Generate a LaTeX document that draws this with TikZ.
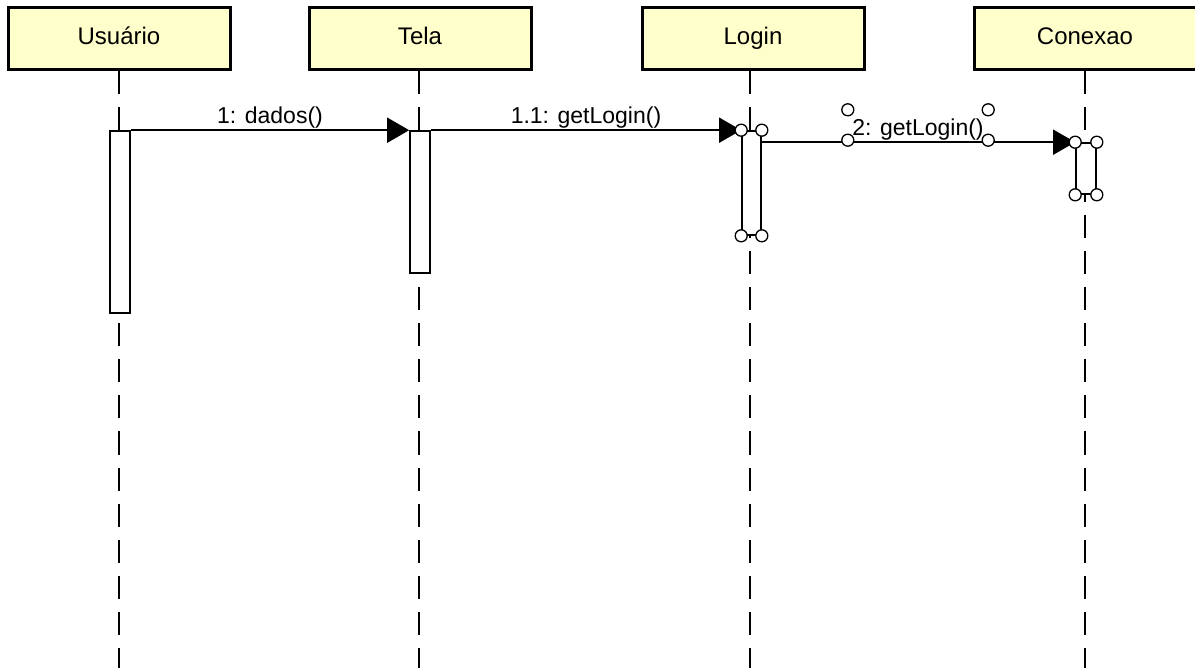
\documentclass[tikz,border=0pt]{standalone}
\usepackage{fontspec}
\setmainfont{Liberation Sans}
\usetikzlibrary{arrows.meta}
\definecolor{objfill}{RGB}{255,255,204}
\begin{document}
\begin{tikzpicture}[x=1pt, y=-1pt,
  objbox/.style={draw, line width=3pt, fill=objfill, minimum width=222pt,
    minimum height=62pt, inner sep=0pt, text height=17pt, text depth=5pt,
    font=\fontsize{24}{28}\selectfont},
  lifeline/.style={line width=1.6pt, dash pattern=on 23pt off 13pt},
  actbar/.style={draw, line width=1.6pt, fill=white, inner sep=0pt, minimum width=20pt},
  msg/.style={line width=1.6pt, -{Triangle[length=22pt, width=25pt]}},
  msglabel/.style={font=\fontsize{23}{27}\selectfont, inner sep=1pt},
  handle/.style={circle, draw, line width=1.3pt, fill=white, inner sep=0pt, minimum size=12pt}]
  \useasboundingbox (0,0) rectangle (1195,668);
  % objetos
  \node[objbox] (usuario) at (119,39) {Usuário};
  \node[objbox] (tela) at (420,39) {Tela};
  \node[objbox] (login) at (753,39) {Login};
  \node[objbox] (conexao) at (1085,39) {Conexao};
  % linhas de vida
  \coordinate (endU) at (119,668);
  \coordinate (endT) at (419,668);
  \coordinate (endL) at (750,668);
  \coordinate (endC) at (1085,668);
  \draw[lifeline] (usuario.south -| endU) -- (endU);
  \draw[lifeline] (tela.south -| endT) -- (endT);
  \draw[lifeline] (login.south -| endL) -- (endL);
  \draw[lifeline] (conexao.south -| endC) -- (endC);
  % ativacoes
  \node[actbar, minimum height=182pt] (actU) at (120,222) {};
  \node[actbar, minimum height=142pt] (actT) at (420,202) {};
  \node[actbar, minimum width=19pt, minimum height=104pt] (actL) at (751.5,183) {};
  \node[actbar, minimum height=51pt] (actC) at (1086,168.5) {};
  % mensagens
  \draw[msg] (actU.north east) -- node[msglabel, midway, above] {1: dados()} (actT.north west);
  \draw[msg] (actT.north east) -- node[msglabel, midway, above] {1.1: getLogin()} (actL.north west);
  \draw[msg] (actL.east |- actC.north) -- (actC.north west);
  \node[msglabel, inner sep=0pt, text height=22pt, text depth=0pt,
    minimum width=140pt, minimum height=30pt] (lbl2) at (918,125) {2: getLogin()};
  % alcas de selecao
  \foreach \n in {actL, actC, lbl2}
    \foreach \a in {north west, north east, south west, south east}
      \node[handle] at (\n.\a) {};
\end{tikzpicture}
\end{document}
